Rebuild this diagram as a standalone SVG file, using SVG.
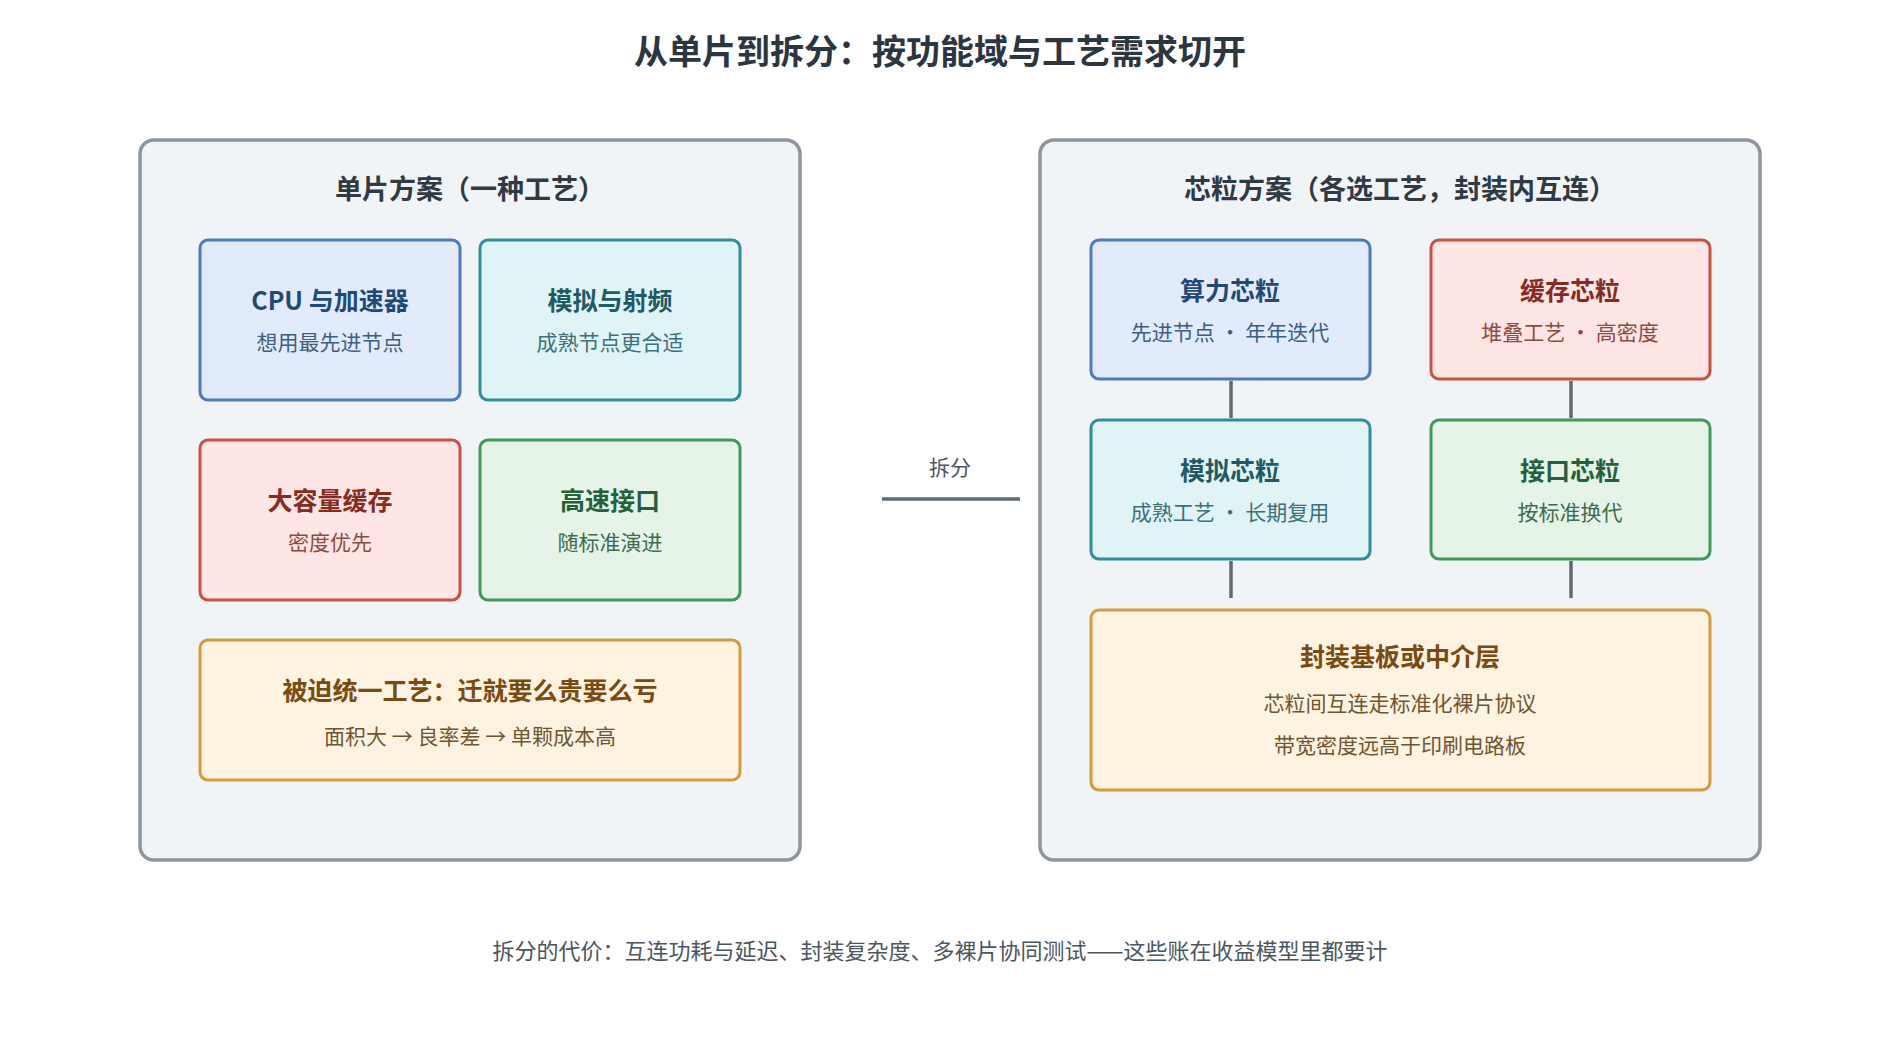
<svg xmlns="http://www.w3.org/2000/svg" width="1880" height="1040" viewBox="0 0 1880 1040">
<style>
text{font-family:"Noto Sans CJK SC","Noto Sans",sans-serif;text-anchor:middle}
.h{font-size:34px;font-weight:700;fill:#2b3640}
.pt{font-size:27px;font-weight:700;fill:#2f3a44}
.t{font-size:25px;font-weight:700}
.s{font-size:21px}
.panel{fill:#f1f4f6;stroke:#8d969e;stroke-width:3.5}
.b{fill:#e2ebfb;stroke:#4a7bbf}.b1{fill:#1f4a78}.b2{fill:#3c5d85}
.c{fill:#e0f3f5;stroke:#2f8f99}.c1{fill:#1d5a63}.c2{fill:#3b7178}
.r{fill:#fde6e3;stroke:#cc5040}.r1{fill:#8a2a1e}.r2{fill:#8e4a40}
.g{fill:#e6f4e7;stroke:#3f9a5a}.g1{fill:#24603a}.g2{fill:#3f6b4c}
.o{fill:#fdf3e0;stroke:#d59a3a}.o1{fill:#7a4a0f}.o2{fill:#6f5530}
rect.box{stroke-width:3}
.ln{stroke:#5f6b74;stroke-width:3.5;fill:none}
</style>
<text class="h" x="940" y="64">从单片到拆分：按功能域与工艺需求切开</text>
<g id="left">
<rect class="panel" x="140" y="140" width="660" height="720" rx="14"/>
<text class="pt" x="470" y="199">单片方案（一种工艺）</text>
</g>
<g id="cpu"><rect class="box b" x="200" y="240" width="260" height="160" rx="8"/><text class="t b1" x="330" y="310">CPU 与加速器</text><text class="s b2" x="330" y="350">想用最先进节点</text></g>
<g id="analog"><rect class="box c" x="480" y="240" width="260" height="160" rx="8"/><text class="t c1" x="610" y="310">模拟与射频</text><text class="s c2" x="610" y="350">成熟节点更合适</text></g>
<g id="cache"><rect class="box r" x="200" y="440" width="260" height="160" rx="8"/><text class="t r1" x="330" y="510">大容量缓存</text><text class="s r2" x="330" y="550">密度优先</text></g>
<g id="io"><rect class="box g" x="480" y="440" width="260" height="160" rx="8"/><text class="t g1" x="610" y="510">高速接口</text><text class="s g2" x="610" y="550">随标准演进</text></g>
<g id="unified"><rect class="box o" x="200" y="640" width="540" height="140" rx="8"/><text class="t o1" x="470" y="700">被迫统一工艺：迁就要么贵要么亏</text><text class="s o2" x="470" y="744">面积大 → 良率差 → 单颗成本高</text></g>
<g id="right">
<rect class="panel" x="1040" y="140" width="720" height="720" rx="14"/>
<text class="pt" x="1400" y="199">芯粒方案（各选工艺，封装内互连）</text>
</g>
<g id="compute"><rect class="box b" x="1091" y="240" width="279" height="139" rx="8"/><text class="t b1" x="1230" y="300">算力芯粒</text><text class="s b2" x="1230" y="340">先进节点 · 年年迭代</text></g>
<g id="cachec"><rect class="box r" x="1431" y="240" width="279" height="139" rx="8"/><text class="t r1" x="1570" y="300">缓存芯粒</text><text class="s r2" x="1570" y="340">堆叠工艺 · 高密度</text></g>
<g id="analogc"><rect class="box c" x="1091" y="420" width="279" height="139" rx="8"/><text class="t c1" x="1230" y="480">模拟芯粒</text><text class="s c2" x="1230" y="520">成熟工艺 · 长期复用</text></g>
<g id="ioc"><rect class="box g" x="1431" y="420" width="279" height="139" rx="8"/><text class="t g1" x="1570" y="480">接口芯粒</text><text class="s g2" x="1570" y="520">按标准换代</text></g>
<g id="substrate"><rect class="box o" x="1091" y="610" width="619" height="180" rx="8"/><text class="t o1" x="1400" y="666">封装基板或中介层</text><text class="s o2" x="1400" y="711">芯粒间互连走标准化裸片协议</text><text class="s o2" x="1400" y="753">带宽密度远高于印刷电路板</text></g>
<g id="connectors">
<line class="ln" x1="882" y1="499" x2="1020" y2="499"/>
<text class="s" x="950" y="475" style="fill:#4a5660">拆分</text>
<line class="ln" x1="1231" y1="381" x2="1231" y2="418"/>
<line class="ln" x1="1571" y1="381" x2="1571" y2="418"/>
<line class="ln" x1="1231" y1="561" x2="1231" y2="598"/>
<line class="ln" x1="1571" y1="561" x2="1571" y2="598"/>
</g>
<text class="s" x="940" y="959" style="fill:#4a5660;font-size:22px">拆分的代价：互连功耗与延迟、封装复杂度、多裸片协同测试——这些账在收益模型里都要计</text>
</svg>
